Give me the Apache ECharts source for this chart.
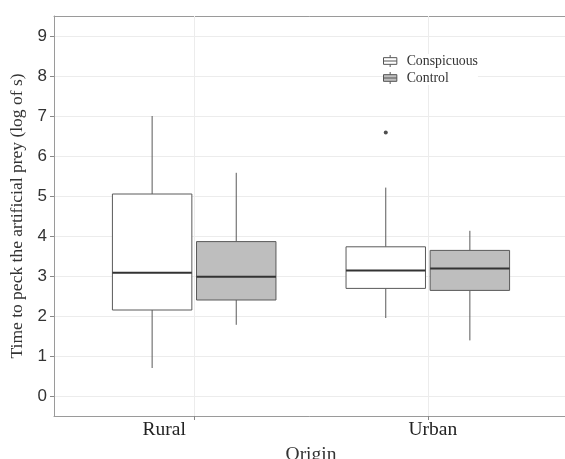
<!DOCTYPE html>
<html>
<head>
<meta charset="utf-8">
<script src="https://cdn.jsdelivr.net/npm/echarts@6/dist/echarts.min.js"></script>
<style>
  html, body { margin: 0; padding: 0; background: #fff; }
  #chart { width: 565px; height: 459px; }
</style>
</head>
<body>
<div id="chart"></div>
<script>
// categories on the x axis
var origins = ['Rural', 'Urban'];
var groups = ['Conspicuous', 'Control'];
// box stats per origin: [min, Q1, median, Q3, max]
var conspicuous = [[0.70, 2.15, 3.08, 5.05, 7.00], [1.95, 2.69, 3.14, 3.73, 5.21]];
var control = [[1.78, 2.40, 2.98, 3.86, 5.58], [1.39, 2.64, 3.19, 3.64, 4.13]];
// outliers: [origin index, value]
var conspicuousOut = [[1, 6.59]];
var yTicks = [0, 1, 2, 3, 4, 5, 6, 7, 8, 9];

var dodge = 0.18, boxW = 0.34;

function boxRender(offset, fill) {
  return function (params, api) {
    var x = api.value(0) + offset;
    var pMin = api.coord([x, api.value(1)]);
    var pQ1 = api.coord([x, api.value(2)]);
    var pMed = api.coord([x, api.value(3)]);
    var pQ3 = api.coord([x, api.value(4)]);
    var pMax = api.coord([x, api.value(5)]);
    var w = api.size([boxW, 0])[0];
    var line = { stroke: '#5a5a5a', lineWidth: 1 };
    return {
      type: 'group',
      children: [
        { type: 'line', shape: { x1: pMax[0], y1: pMax[1], x2: pQ3[0], y2: pQ3[1] }, style: line },
        { type: 'line', shape: { x1: pQ1[0], y1: pQ1[1], x2: pMin[0], y2: pMin[1] }, style: line },
        { type: 'rect', shape: { x: pQ3[0] - w / 2, y: pQ3[1], width: w, height: pQ1[1] - pQ3[1] },
          style: { fill: fill, stroke: '#5a5a5a', lineWidth: 1 } },
        { type: 'line', shape: { x1: pMed[0] - w / 2, y1: pMed[1], x2: pMed[0] + w / 2, y2: pMed[1] },
          style: { stroke: '#333', lineWidth: 2 } }
      ]
    };
  };
}

var chart = echarts.init(document.getElementById('chart'));
var boxIcon = 'path://M0,4H20V14H0Z M0,9H20 M10,0V4 M10,14V18';
var serif = 'Liberation Serif';

chart.setOption({
  animation: false,
  grid: { left: 54, right: -3, top: 16, bottom: 43, outerBoundsMode: 'none', show: false },
  legend: {
    orient: 'vertical', left: 383, top: 54, itemWidth: 15, itemHeight: 12, itemGap: 3,
    padding: 0, backgroundColor: '#fff', z: 20,
    data: [
      { name: 'Conspicuous', icon: boxIcon, itemStyle: { color: '#fff', borderColor: '#555', borderWidth: 1 } },
      { name: 'Control', icon: boxIcon, itemStyle: { color: '#bebebe', borderColor: '#555', borderWidth: 1 } }
    ],
    textStyle: { fontFamily: serif, fontSize: 13.8, color: '#333', padding: [0, 0, 0, 4] }
  },
  xAxis: [{
    type: 'value', min: 0.4, max: 2.6,
    name: 'Origin', nameLocation: 'middle', nameGap: 25,
    nameTextStyle: { fontFamily: serif, fontSize: 19.5, color: '#333' },
    axisLine: { show: true, onZero: false, lineStyle: { color: '#9a9a9a' } },
    axisTick: { show: true, length: 4, lineStyle: { color: '#888' }, customValues: [1, 2] },
    axisLabel: {
      customValues: [1, 2], margin: 4,
      formatter: function (v) { return v === 1 ? '{r|' + origins[0] + '}' : '{u|' + origins[1] + '}'; },
      rich: {
        r: { fontFamily: serif, fontSize: 19.5, color: '#222', padding: [0, 60, 0, 0] },
        u: { fontFamily: serif, fontSize: 19.5, color: '#222', padding: [0, 0, 0, 10] }
      }
    },
    splitLine: { show: false }
  }, {
    type: 'value', position: 'top', min: 0.4, max: 2.6,
    axisLine: { show: true, onZero: false, lineStyle: { color: '#9a9a9a' } },
    axisTick: { show: false }, axisLabel: { show: false }, splitLine: { show: false }
  }],
  yAxis: {
    type: 'value', min: -0.5, max: 9.5, interval: 0.5,
    name: 'Time to peck the artificial prey (log of s)', nameLocation: 'middle', nameGap: 19,
    nameTextStyle: { fontFamily: serif, fontSize: 17.5, color: '#333' },
    axisLine: { show: true, onZero: false, lineStyle: { color: '#9a9a9a' } },
    axisTick: { show: true, length: 4, lineStyle: { color: '#888' }, customValues: yTicks },
    axisLabel: { customValues: yTicks, margin: 7, fontFamily: 'Liberation Sans', fontSize: 17, color: '#333' },
    splitLine: { show: true, lineStyle: { color: '#ececec', width: 1 } }
  },
  series: [
    {
      name: 'Conspicuous', type: 'custom',
      renderItem: boxRender(-dodge, '#ffffff'),
      itemStyle: { color: '#ffffff', borderColor: '#555', borderWidth: 1 },
      encode: { x: 0, y: [1, 2, 3, 4, 5] },
      data: conspicuous.map(function (d, i) { return [i + 1].concat(d); }),
      markLine: {
        silent: true, symbol: 'none', label: { show: false },
        lineStyle: { color: '#ececec', width: 1, type: 'solid' },
        data: [{ xAxis: 1 }, { xAxis: 2 }]
      },
      z: 3
    },
    {
      name: 'Control', type: 'custom',
      renderItem: boxRender(dodge, '#bebebe'),
      itemStyle: { color: '#bebebe', borderColor: '#555', borderWidth: 1 },
      encode: { x: 0, y: [1, 2, 3, 4, 5] },
      data: control.map(function (d, i) { return [i + 1].concat(d); }),
      z: 3
    },
    {
      name: 'outliers', type: 'scatter', symbolSize: 4,
      itemStyle: { color: '#222' },
      data: conspicuousOut.map(function (d) { return [d[0] + 1 - dodge, d[1]]; }),
      z: 4
    }
  ]
});
</script>
</body>
</html>
